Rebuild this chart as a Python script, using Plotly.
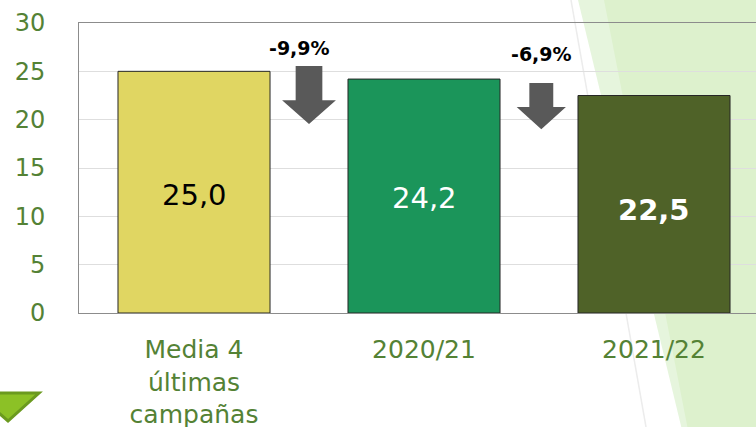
import plotly.graph_objects as go

# ---- data ----
categories = ["Media 4<br>últimas<br>campañas", "2020/21", "2021/22"]
values = [25.0, 24.2, 22.5]
bar_colors = ["#e0d662", "#1b955a", "#4f6228"]
label_colors = ["#000000", "#ffffff", "#ffffff"]
label_weights = ["normal", "normal", "bold"]
change_labels = ["-9,9%", "-6,9%"]
y_ticks = [0, 5, 10, 15, 20, 25, 30]

W, H = 756, 427
ML, MR, MT, MB = 79, 0, 23, 114
PW, PH = W - ML - MR, H - MT - MB


def px(x):
    return (x - ML) / PW


def py(y):
    return (H - MB - y) / PH


xpos = list(range(len(categories)))
fig = go.Figure()
fig.add_trace(go.Bar(
    x=xpos, y=values, width=0.661,
    marker=dict(color=bar_colors, line=dict(color="#262626", width=1)),
    hoverinfo="skip",
))

FONT = "DejaVu Sans, Verdana, sans-serif"
annotations = []
for i, v in enumerate(values):
    annotations.append(dict(
        x=i, y=v / 2 - (0.6 if label_weights[i] == "bold" else 0.25), xref="x", yref="y",
        text=f"{v:.1f}".replace(".", ","), showarrow=False,
        font=dict(family=FONT, size=29, color=label_colors[i], weight=label_weights[i]),
    ))

shapes = []
# background decorations (paper coordinates)
shapes.append(dict(type="path", xref="paper", yref="paper", layer="below",
                   path=f"M {px(578)} {py(0)} L {px(760)} {py(0)} L {px(760)} {py(430)} L {px(682)} {py(430)} Z",
                   fillcolor="#e6f5dd", line=dict(width=0)))
shapes.append(dict(type="path", xref="paper", yref="paper", layer="below",
                   path=f"M {px(604)} {py(0)} L {px(760)} {py(0)} L {px(760)} {py(430)} L {px(688)} {py(430)} Z",
                   fillcolor="#ddf1cd", line=dict(width=0)))
shapes.append(dict(type="line", xref="paper", yref="paper", layer="below",
                   x0=px(571), y0=py(0), x1=px(646), y1=py(427),
                   line=dict(color="#ececec", width=1.5)))
shapes.append(dict(type="path", xref="paper", yref="paper", layer="above",
                   path=f"M {px(-24)} {py(393)} L {px(39)} {py(393)} L {px(8)} {py(421)} Z",
                   fillcolor="#8cc126", line=dict(color="#6b9a1f", width=3)))

# down arrows between bars: (top, neck, tip, shaft half-width, head half-width, label y)
arrow_geo = [
    (25.55, 22.0, 19.55, 0.058, 0.117, 27.4),
    (23.8, 21.3, 19.0, 0.052, 0.107, 26.8),
]
for k, lab in enumerate(change_labels):
    cx = k + 0.5 + (0.01 if k == 1 else 0)
    top, neck, tip, sw, hw, ly = arrow_geo[k]
    path = (f"M {cx - sw} {top} L {cx + sw} {top} L {cx + sw} {neck} L {cx + hw} {neck} "
            f"L {cx} {tip} L {cx - hw} {neck} L {cx - sw} {neck} Z")
    shapes.append(dict(type="path", xref="x", yref="y", path=path,
                       fillcolor="#595959", line=dict(width=0)))
    annotations.append(dict(
        x=cx - 0.04 if k == 0 else cx, y=ly, xref="x", yref="y", text=lab, showarrow=False,
        font=dict(family=FONT, size=19, color="#000000", weight="bold"),
    ))

tick_color = "#548235"
fig.update_layout(
    width=W, height=H,
    margin=dict(l=ML, r=MR, t=MT, b=MB, pad=0, autoexpand=False),
    paper_bgcolor="white",
    plot_bgcolor="rgba(0,0,0,0)",
    showlegend=False,
    bargap=0.339,
    shapes=shapes,
    annotations=annotations,
    xaxis=dict(
        range=[-0.5, -0.5 + PW / 230], tickvals=xpos, ticktext=categories,
        showgrid=False, zeroline=False, showline=True, mirror=True, automargin=False,
        linecolor="#8c8c8c", linewidth=1, ticks="", ticklabelstandoff=14,
        tickfont=dict(family=FONT, size=25, color=tick_color),
    ),
    yaxis=dict(
        range=[0, 30], tickvals=y_ticks, showgrid=True, gridcolor="#dedede", gridwidth=1,
        zeroline=False, showline=True, linecolor="#8c8c8c", linewidth=1, automargin=False,
        ticks="", ticklabelstandoff=28,
        tickfont=dict(family=FONT, size=24, color=tick_color),
    ),
)

fig.write_html("out.html", config={"displayModeBar": False},
               post_script="document.body.style.margin='0';document.body.style.overflow='hidden';")
